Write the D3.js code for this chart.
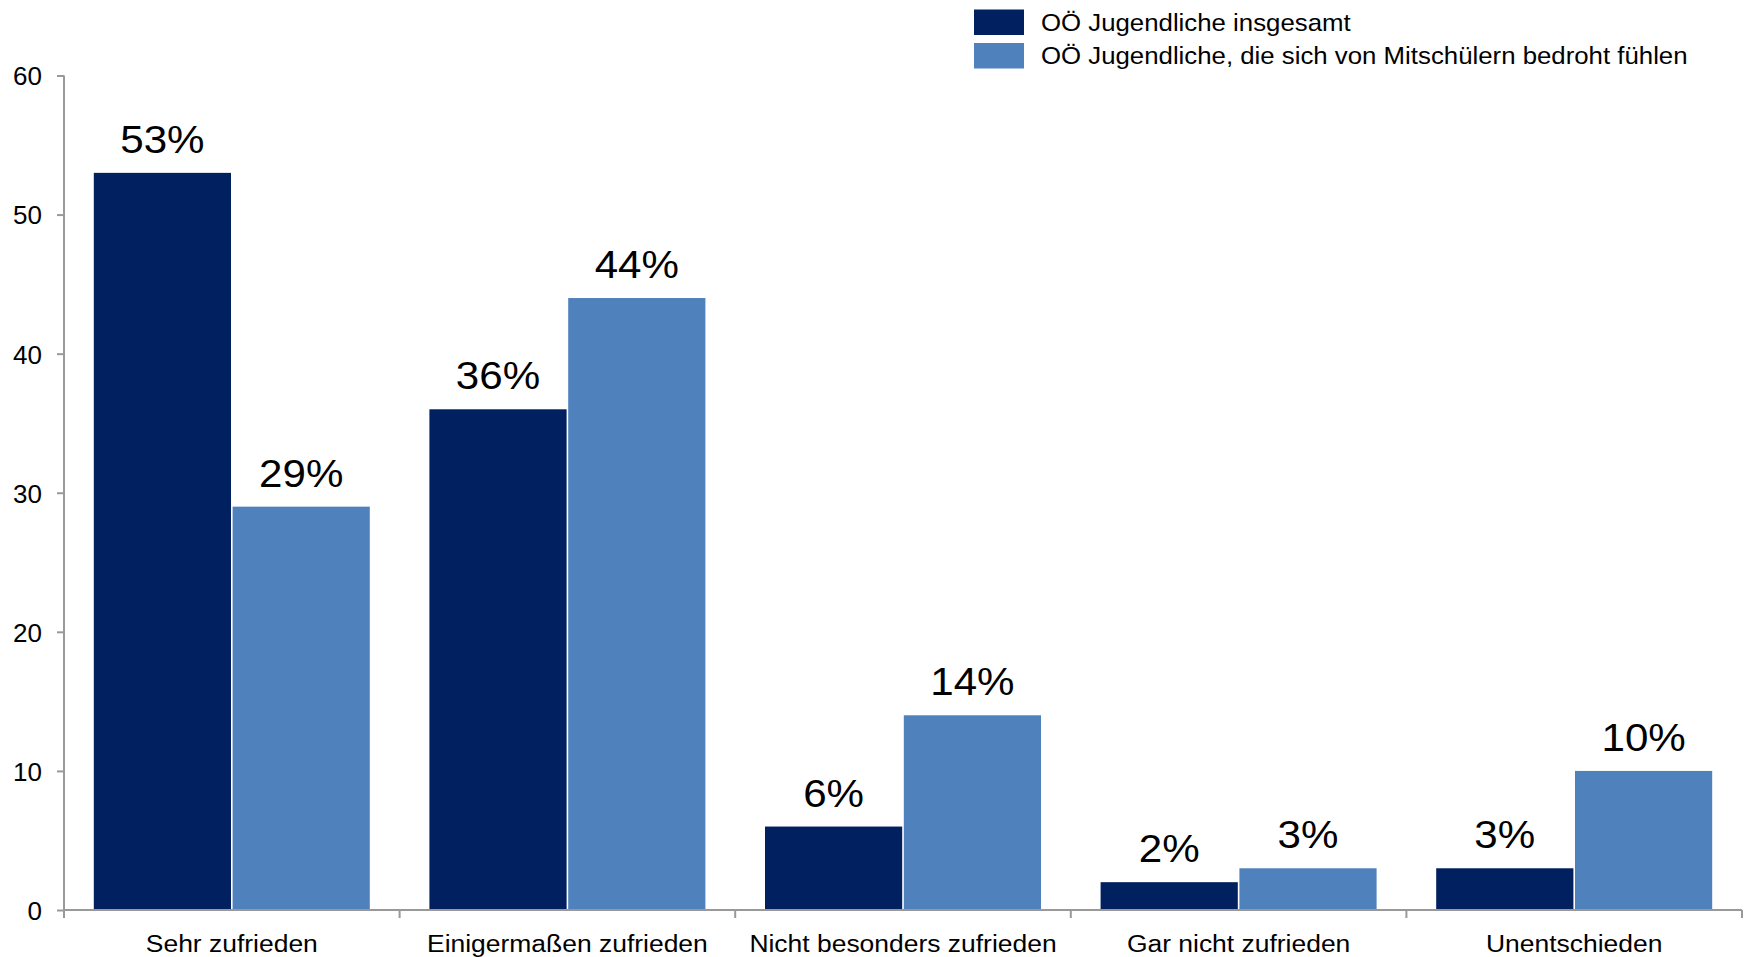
<!DOCTYPE html>
<html><head><meta charset="utf-8">
<script src="https://cdn.jsdelivr.net/npm/d3@7"></script>
<style>
body{margin:0;background:#fff}
svg{display:block}
text{font-family:"Liberation Sans",Arial,sans-serif;fill:#000}
</style>
</head><body><svg id="c" width="1745" height="957"></svg>
<script>
const categories = ["Sehr zufrieden","Einigermaßen zufrieden","Nicht besonders zufrieden","Gar nicht zufrieden","Unentschieden"];
const seriesNames = ["OÖ Jugendliche insgesamt","OÖ Jugendliche, die sich von Mitschülern bedroht fühlen"];
const totalValues = [53,36,6,2,3];
const threatenedValues = [29,44,14,3,10];
const yTicks = [0,10,20,30,40,50,60];
const colors = ["#00205f","#4f81bd"];

(function(){
const series = [totalValues, threatenedValues];
const svg = d3.select("#c");
const axisColor = "#999";

const mLeft = 64, mRight = 1742, mTop = 75.5, mBottom = 910;
const x0 = d3.scaleBand().domain(categories).range([mLeft, mRight]).paddingInner(0).paddingOuter(0);
const step = x0.bandwidth();
const x1 = d3.scaleBand().domain([0,1]).range([29, step - 29]).padding(0);
const y = d3.scaleLinear().domain([0,60]).range([mBottom, mTop]);

function stretchText(parent, x, yy, str, size, anchor, sx){
  const g = parent.append("g").attr("transform", `translate(${x},${yy}) scale(${sx},1)`);
  g.append("text").attr("text-anchor", anchor).style("font-size", size+"px").text(str);
  return g;
}

// bars
const groups = svg.append("g").selectAll("g").data(categories).join("g")
  .attr("transform", d => `translate(${x0(d)},0)`);
groups.selectAll("rect").data((d,i) => series.map((s,k) => ({k, v: s[i]}))).join("rect")
  .attr("x", d => x1(d.k) + 0.8)
  .attr("width", x1.bandwidth() - 1.6)
  .attr("y", d => y(d.v))
  .attr("height", d => mBottom - 1 - y(d.v))
  .attr("fill", d => colors[d.k]);

// value labels
categories.forEach((c,i) => {
  series.forEach((s,k) => {
    stretchText(svg, x0(c) + x1(k) + x1.bandwidth()/2, y(s[i]) - 20, s[i] + "%", 39, "middle", 1.08);
  });
});

// y axis
const yAxis = svg.append("g").attr("transform", `translate(${mLeft},0)`)
  .call(d3.axisLeft(y).tickValues(yTicks).tickSize(7).tickSizeOuter(0).tickFormat(d3.format("d")));
yAxis.select(".domain").remove();
yAxis.selectAll(".tick line").attr("stroke", axisColor).attr("stroke-width", 2);
yAxis.selectAll(".tick text").attr("x", -22).attr("dy", "0.36em")
  .style("font-size", "26px").style("font-family", '"Liberation Sans",Arial,sans-serif').attr("fill", "#000");
svg.append("line").attr("x1", mLeft).attr("x2", mLeft).attr("y1", mTop).attr("y2", mBottom + 8)
  .attr("stroke", axisColor).attr("stroke-width", 2);

// x axis
svg.append("line").attr("x1", mLeft).attr("x2", mRight).attr("y1", mBottom).attr("y2", mBottom)
  .attr("stroke", axisColor).attr("stroke-width", 2);
const bounds = categories.map(c => x0(c)).concat([x0.range()[1]]).slice(1);
svg.append("g").selectAll("line").data(bounds).join("line")
  .attr("x1", d => d).attr("x2", d => d).attr("y1", mBottom).attr("y2", mBottom + 8)
  .attr("stroke", axisColor).attr("stroke-width", 2);
categories.forEach(c => {
  stretchText(svg, x0(c) + step/2, 952, c, 24.5, "middle", 1.08);
});

// legend
const legendY = [9.5, 43];
seriesNames.forEach((n,k) => {
  svg.append("rect").attr("x", 974).attr("y", legendY[k]).attr("width", 50).attr("height", 25.5).attr("fill", colors[k]);
  stretchText(svg, 1041, legendY[k] + 21, n, 24, "start", 1.075);
});
})();
</script>
</body></html>
